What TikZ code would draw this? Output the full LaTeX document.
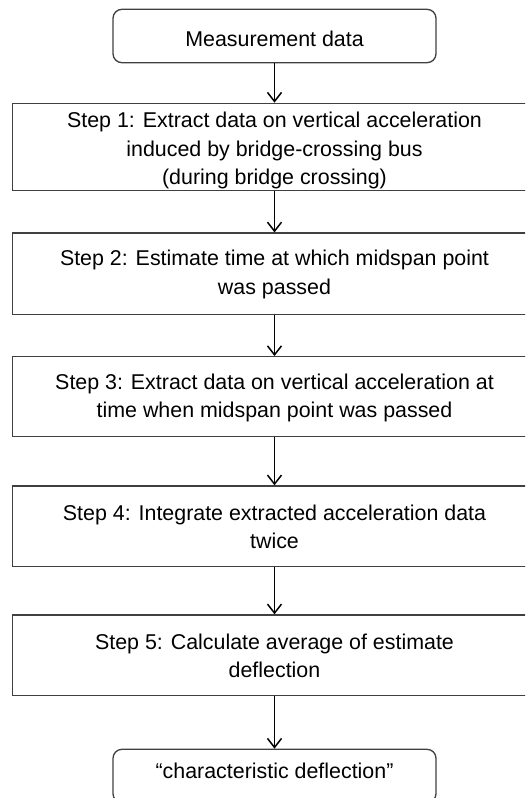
\documentclass[tikz,border=0pt]{standalone}
\usepackage{fontspec}
\setmainfont{Liberation Sans}
\usetikzlibrary{arrows.meta}
\begin{document}
\begin{tikzpicture}[x=1pt,y=-1pt,
  every node/.style={font=\fontsize{21.4}{28.5}\selectfont, align=center, inner sep=0pt},
  stepbox/.style={draw=black!75, line width=1.3pt, minimum width=524pt},
  endbox/.style={draw=black!75, line width=1.3pt, rounded corners=9pt,
    minimum width=323pt, minimum height=53.4pt},
  flow/.style={draw=black, line width=1.5pt,
    -{Straight Barb[length=9pt,width=14pt,line width=1.5pt]}}]
  \useasboundingbox (0,0) rectangle (525,798);
  \clip (0,0) rectangle (525,798);

  % start and end of the procedure
  \node[endbox, text height=20.5pt, text depth=0pt] (m) at (274.5,36) {Measurement data};
  \node[endbox, text height=15.5pt, text depth=10pt] (c) at (274.5,776) {“characteristic deflection”};

  % processing steps
  \node[stepbox, minimum height=87pt] (s1) at (274.5,146.8)
    {\rule{0pt}{23.5pt}Step 1: Extract data on vertical acceleration\\induced by bridge-crossing bus\\(during bridge crossing)};
  \node[stepbox, minimum height=81.3pt] (s2) at (274.5,273.7)
    {\rule{0pt}{17pt}Step 2: Estimate time at which midspan point\\was passed};
  \node[stepbox, minimum height=80pt] (s3) at (274.5,396.7)
    {\rule{0pt}{18pt}Step 3: Extract data on vertical acceleration at\\time when midspan point was passed};
  \node[stepbox, minimum height=80.7pt] (s4) at (274.5,526.3)
    {\rule{0pt}{17pt}Step 4: Integrate extracted acceleration data\\twice};
  \node[stepbox, minimum height=80.7pt] (s5) at (274.5,655.3)
    {\rule{0pt}{17pt}Step 5: Calculate average of estimate\\deflection};

  % flow between the boxes
  \draw[flow] (m.south) -- (s1.north);
  \draw[flow] (s1.south) -- (s2.north);
  \draw[flow] (s2.south) -- (s3.north);
  \draw[flow] (s3.south) -- (s4.north);
  \draw[flow] (s4.south) -- (s5.north);
  \draw[flow] (s5.south) -- (c.north);
\end{tikzpicture}
\end{document}
